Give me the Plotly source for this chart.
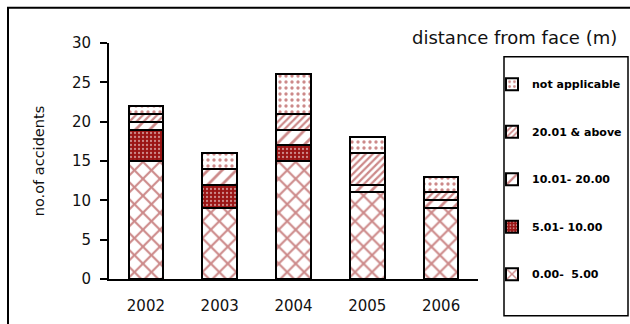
import plotly.graph_objects as go

# Accidents per year, split by distance from the face (m)
years = ["2002", "2003", "2004", "2005", "2006"]
band_names = ["0.00-\u00a0 5.00", "5.01- 10.00", "10.01- 20.00", "20.01 & above", "not applicable"]
d_0_5 = [15, 9, 15, 11, 9]
d_5_10 = [4, 3, 2, 0, 0]
d_10_20 = [1, 2, 2, 1, 1]
d_20_up = [1, 0, 2, 4, 1]
d_na = [1, 2, 5, 2, 2]
y_ticks = [0, 5, 10, 15, 20, 25, 30]

series = [d_0_5, d_5_10, d_10_20, d_20_up, d_na]

RED = "#9a1414"
patterns = [
    dict(shape="x", size=12, solidity=0.32, fgcolor=RED, bgcolor="white"),
    dict(shape=".", size=4, solidity=0.25, fgcolor="white", bgcolor=RED),
    dict(shape="/", size=10, solidity=0.28, fgcolor=RED, bgcolor="white"),
    dict(shape="/", size=5, solidity=0.45, fgcolor=RED, bgcolor="white"),
    dict(shape=".", size=6, solidity=0.25, fgcolor=RED, bgcolor="white"),
]

W, H = 630, 324
L, R, T, B = 109, 478, 43.3, 279.3

def px(x):
    return (x - L) / (R - L)

def py(y):
    return (B - y) / (B - T)

fig = go.Figure()
n = len(series)
for i, (name, vals) in enumerate(zip(band_names, series)):
    fig.add_trace(go.Bar(
        x=years, y=vals, name=name, legendgroup=f"g{i}", legendrank=n - i,
        marker=dict(color="white", pattern=patterns[i],
                    line=dict(color="black", width=2)),
    ))

axis_font = dict(family="DejaVu Sans", size=15, color="#111")

fig.update_layout(
    width=W, height=H,
    margin=dict(l=L, r=W - R, t=T, b=H - B, pad=0, autoexpand=False),
    paper_bgcolor="white", plot_bgcolor="white",
    barmode="stack", bargap=0.533,
    showlegend=True,
    legend=dict(
        x=px(492), y=py(70), xanchor="left", yanchor="top",
        traceorder="grouped", tracegroupgap=28.5,
        bgcolor="rgba(0,0,0,0)", borderwidth=0,
        font=dict(family="DejaVu Sans", size=11, color="black", weight="bold"),
    ),
    xaxis=dict(
        showline=True, linecolor="black", linewidth=1.5,
        ticks="", showgrid=False, tickfont=axis_font,
        ticklabelstandoff=12, automargin=False,
    ),
    yaxis=dict(
        range=[0, 30], tickvals=y_ticks,
        showline=True, linecolor="black", linewidth=2,
        ticks="outside", ticklen=7, tickwidth=1.5, tickcolor="black",
        showgrid=False, zeroline=False, tickfont=axis_font,
        ticklabelstandoff=6, automargin=False,
        title=dict(text="no.of accidents", standoff=24,
                   font=dict(family="DejaVu Sans", size=14.5, color="#111")),
    ),
    shapes=[
        # outer chart frame
        dict(type="rect", xref="paper", yref="paper",
             x0=px(8), x1=px(645), y0=py(340), y1=py(8),
             line=dict(color="black", width=2), fillcolor="rgba(0,0,0,0)", layer="above"),
        # legend frame
        dict(type="rect", xref="paper", yref="paper",
             x0=px(504), x1=px(628), y0=py(316), y1=py(57),
             line=dict(color="black", width=1.5), fillcolor="rgba(0,0,0,0)", layer="above"),
    ],
    annotations=[
        dict(text="distance from face (m)", xref="paper", yref="paper",
             x=px(514), y=py(38), xanchor="center", yanchor="middle",
             showarrow=False, font=dict(family="DejaVu Sans", size=18, color="#111")),
    ],
)

fig.write_html("out.html")
